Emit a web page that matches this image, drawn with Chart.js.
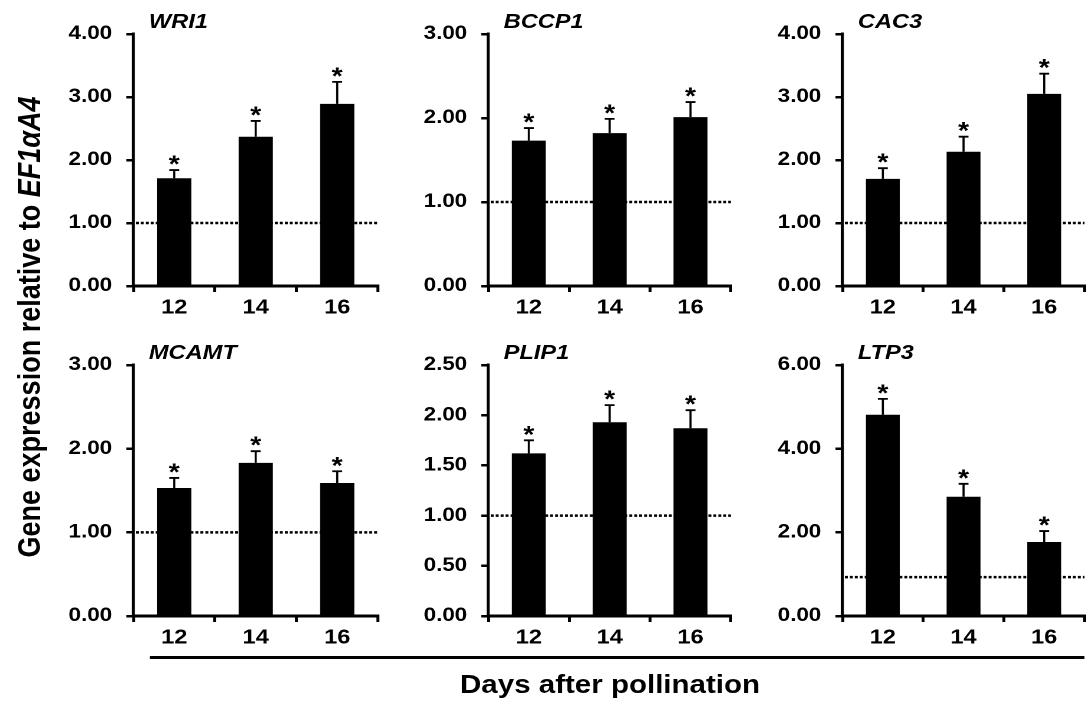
<!DOCTYPE html>
<html>
<head>
<meta charset="utf-8">
<script src="https://cdn.jsdelivr.net/npm/chart.js@4.4.1/dist/chart.umd.min.js"></script>
<style>
  html, body { margin: 0; padding: 0; background: #fff; }
  body { width: 1088px; height: 704px; position: relative; overflow: hidden; font-family: "Liberation Sans", Arial, sans-serif; }
  /* the figure is drawn slightly condensed, then widened like the original */
  #stage { position: absolute; left: 0; top: 0; width: 922px; height: 704px; transform: scaleX(1.18); transform-origin: 0 0; }
  .panel { position: absolute; }
  #ytitle {
    position: absolute; left: 25px; top: 327px; white-space: nowrap;
    transform: translate(-50%, -50%) rotate(-90deg);
    font-weight: bold; font-size: 27px; color: #000;
  }
  #xtitle {
    position: absolute; left: 517px; top: 684px; white-space: nowrap;
    transform: translate(-50%, -50%);
    font-weight: bold; font-size: 25px; color: #000;
  }
  #xline { position: absolute; left: 127px; top: 656px; width: 792px; height: 3px; background: #000; }
</style>
</head>
<body>
<div id="stage">
  <div id="ytitle">Gene expression relative to <i>EF1αA4</i></div>
  <div id="xline"></div>
  <div id="xtitle">Days after pollination</div>
</div>

<script>
const days = ['12', '14', '16'];
const genes = ['WRI1', 'BCCP1', 'CAC3', 'MCAMT', 'PLIP1', 'LTP3'];
const means = [
  [1.71, 2.37, 2.89],
  [1.73, 1.82, 2.01],
  [1.70, 2.13, 3.05],
  [1.53, 1.83, 1.59],
  [1.62, 1.93, 1.87],
  [4.81, 2.85, 1.77],
];
const errors = [
  [0.13, 0.25, 0.35],
  [0.15, 0.17, 0.18],
  [0.17, 0.24, 0.32],
  [0.12, 0.14, 0.14],
  [0.13, 0.17, 0.18],
  [0.38, 0.31, 0.26],
];
const yMax = [4, 3, 4, 3, 2.5, 6];
const yStep = [1, 1, 1, 1, 0.5, 2];
const refLine = [1, 1, 1, 1, 1, 0.93];

// panel geometry in screen pixels (axis left/right, plot top/bottom)
const SX = 1.18;
const cols = [[133, 377], [488, 731], [842, 1084]];
const rows = [[34, 286], [365, 616]];
const LEFT = 66, TOP = 40, BOTTOM = 40, RIGHT = 6;
const FONT = '"Liberation Sans", Arial, sans-serif';

const decorations = {
  id: 'decorations',
  beforeDatasetsDraw(chart, args, opts) {
    const { ctx, chartArea, scales } = chart;
    const y = scales.y.getPixelForValue(opts.ref);
    ctx.save();
    ctx.strokeStyle = '#000';
    ctx.lineWidth = 2.5;
    ctx.setLineDash([2.5, 1.7]);
    ctx.beginPath();
    ctx.moveTo(chartArea.left + 2, y);
    ctx.lineTo(chartArea.right, y);
    ctx.stroke();
    ctx.restore();
  },
  afterDatasetsDraw(chart, args, opts) {
    const { ctx, chartArea, scales } = chart;
    ctx.save();
    ctx.strokeStyle = '#000';
    ctx.fillStyle = '#000';
    ctx.lineWidth = 1.8;
    opts.means.forEach((m, i) => {
      const x = scales.x.getPixelForValue(i);
      const y0 = scales.y.getPixelForValue(m);
      const y1 = scales.y.getPixelForValue(m + opts.errors[i]);
      ctx.beginPath();
      ctx.moveTo(x, y0);
      ctx.lineTo(x, y1);
      ctx.moveTo(x - 4.2, y1);
      ctx.lineTo(x + 4.2, y1);
      ctx.stroke();
      ctx.font = 'bold 24px ' + FONT;
      ctx.textAlign = 'center';
      ctx.textBaseline = 'alphabetic';
      ctx.fillText('*', x, y1 + 2);
    });
    ctx.font = 'italic bold 20px ' + FONT;
    ctx.textAlign = 'left';
    ctx.textBaseline = 'alphabetic';
    ctx.fillText(opts.title, chartArea.left + 13, chartArea.top - 6);
    ctx.restore();
  },
};

const stage = document.getElementById('stage');

genes.forEach((gene, g) => {
  const [ax, ar] = cols[g % 3];
  const [pt, pb] = rows[Math.floor(g / 3)];
  const wrap = document.createElement('div');
  wrap.className = 'panel';
  const w = (ar - ax) / SX + LEFT + RIGHT;
  const h = pb - pt + TOP + BOTTOM;
  wrap.style.left = (ax / SX - LEFT) + 'px';
  wrap.style.top = (pt - TOP) + 'px';
  wrap.style.width = w + 'px';
  wrap.style.height = h + 'px';
  const canvas = document.createElement('canvas');
  wrap.appendChild(canvas);
  stage.appendChild(wrap);

  new Chart(canvas, {
    type: 'bar',
    data: {
      labels: days,
      datasets: [{
        data: means[g],
        backgroundColor: '#000',
        borderWidth: 0,
        barPercentage: 0.42,
        categoryPercentage: 1,
      }],
    },
    options: {
      responsive: true,
      maintainAspectRatio: false,
      animation: false,
      devicePixelRatio: 2,
      layout: { padding: { left: 0, right: RIGHT, top: TOP, bottom: 0 } },
      plugins: {
        legend: { display: false },
        tooltip: { enabled: false },
        decorations: { means: means[g], errors: errors[g], ref: refLine[g], title: gene },
      },
      scales: {
        x: {
          afterFit: (s) => { s.height = BOTTOM; },
          grid: { display: true, drawOnChartArea: false, drawTicks: true, tickLength: 6, lineWidth: 2.5, color: '#000', offset: true },
          border: { display: true, width: 3, color: '#000' },
          ticks: { color: '#000', padding: 4, font: { family: FONT, size: 20, weight: 'bold' } },
        },
        y: {
          min: 0,
          max: yMax[g],
          afterFit: (s) => { s.width = LEFT; },
          grid: { display: true, drawOnChartArea: false, drawTicks: true, tickLength: 6, lineWidth: 2.5, color: '#000' },
          border: { display: true, width: 2.6, color: '#000' },
          ticks: {
            stepSize: yStep[g],
            color: '#000',
            padding: 12,
            font: { family: FONT, size: 19, weight: 'bold' },
            callback: (v) => Number(v).toFixed(2),
          },
        },
      },
    },
    plugins: [decorations],
  });
});
</script>
</body>
</html>
